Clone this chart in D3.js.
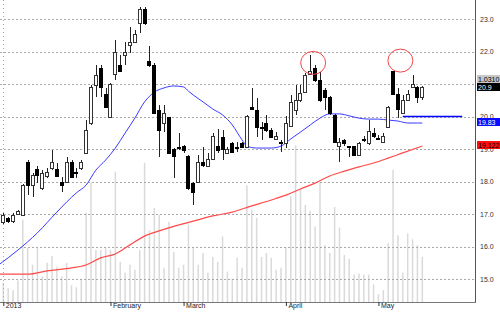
<!DOCTYPE html>
<html>
<head>
<meta charset="utf-8">
<script src="https://cdnjs.cloudflare.com/ajax/libs/d3/7.8.5/d3.min.js"></script>
<style>
  body { margin: 0; background: #fff; }
  text { font-family: "Liberation Sans", Arial, sans-serif; }
</style>
</head>
<body>
<div id="chart"></div>
<script>
// Chart data
// ================================
var opens = [16.75,16.88,16.78,17.00,16.97,18.60,17.89,18.38,17.80,18.17,
  18.42,18.38,17.98,17.98,18.60,18.30,18.42,18.88,19.80,20.97,
  21.49,20.69,19.98,21.31,21.58,21.89,22.20,22.29,22.88,23.31,
  21.71,21.58,20.20,19.80,19.98,19.00,19.07,19.09,18.78,17.95,
  17.98,18.60,18.48,18.69,19.09,19.37,18.88,19.18,19.07,19.18,
  19.06,20.29,20.20,19.69,19.80,19.58,19.31,19.23,19.18,19.71,
  20.20,20.51,20.75,21.31,21.49,21.12,20.82,20.60,20.05,19.09,
  19.28,19.10,19.09,18.82,19.32,19.18,19.49,19.35,19.22,19.68,
  21.40,20.69,20.11,20.51,20.91,20.91,20.60];
var highs = [17.03,16.91,17.03,17.12,17.92,18.66,18.26,18.48,18.35,18.42,
  18.97,18.57,18.14,18.75,18.66,18.42,18.66,19.89,20.97,21.58,
  21.58,20.88,21.03,22.35,21.89,22.29,22.75,22.66,23.37,23.37,
  22.17,21.65,20.35,20.35,20.00,19.03,19.49,19.12,18.82,18.00,
  18.82,19.06,18.88,19.49,19.61,19.58,19.06,19.22,19.22,19.22,
  20.05,20.88,20.57,19.83,20.05,19.65,19.52,19.28,20.02,20.66,
  20.97,20.97,21.34,21.89,21.58,21.37,20.88,20.63,20.08,19.34,
  19.31,19.10,19.10,19.22,19.40,19.89,19.65,19.43,19.49,20.32,
  21.40,20.88,20.66,20.82,21.28,20.94,20.94];
var lows = [16.69,16.72,16.72,16.97,16.95,17.58,17.52,17.95,17.74,18.11,
  18.35,18.14,17.68,17.95,18.11,18.11,18.35,18.88,19.74,20.60,
  20.60,20.26,19.95,21.12,21.37,21.58,21.95,22.26,22.57,22.82,
  21.52,20.11,18.75,19.52,18.85,18.11,18.97,18.88,17.74,17.28,
  17.95,18.45,18.45,18.66,18.88,18.66,18.85,18.88,18.91,19.03,
  19.06,20.20,19.37,19.28,19.52,19.34,19.28,18.91,19.03,19.68,
  20.05,20.45,20.72,21.28,21.06,20.45,20.20,20.05,19.18,18.60,
  19.09,18.75,18.78,18.78,19.22,19.12,19.34,19.28,19.18,19.65,
  20.66,19.95,20.08,20.48,20.88,20.42,20.51];
var closes = [16.97,16.78,16.97,17.09,17.89,17.89,18.20,18.20,18.26,18.29,
  18.60,18.17,17.89,18.60,18.14,18.29,18.60,19.58,20.91,21.28,
  20.91,20.29,21.00,21.98,21.40,21.98,22.29,22.54,23.31,22.88,
  21.58,20.11,19.58,20.11,18.88,18.78,19.06,18.97,17.80,17.68,
  18.60,18.51,18.69,19.40,18.97,19.00,19.00,18.91,19.06,19.06,
  20.02,20.23,19.68,19.68,19.58,19.37,19.40,19.22,19.80,20.45,
  20.51,20.72,21.28,21.40,21.12,20.51,20.60,20.11,19.22,19.22,
  19.18,19.09,18.82,19.18,19.31,19.55,19.40,19.34,19.40,20.29,
  20.69,20.23,20.51,20.69,21.00,20.60,20.90];
var volumes = [20,14,12,22,84,55,38,55,26,40,
  47,36,26,40,17,15,24,91,122,53,
  53,55,53,133,41,30,38,33,53,142,
  73,96,89,35,82,51,35,38,79,56,
  38,50,30,46,41,67,31,24,45,35,
  119,94,86,46,50,45,33,35,56,108,
  160,116,99,93,77,122,58,50,97,76,
  48,44,28,29,28,28,18,8,12,60,
  135,68,30,70,64,58,46];

// moving averages, read at a subset of bars
var blueIdx = [0,4,8,12,16,18,20,22,24,26,28,30,32,34,36,38,39,40,42,44,46,48,50,51,53,
  56,58,60,62,64,66,68,70,72,74,76,78,80,82,84,86,87];
var blueVals = [15.43,15.89,16.42,17.06,17.65,17.89,18.35,18.66,19.03,19.49,19.95,20.45,20.75,20.88,20.94,
  20.91,20.78,20.66,20.45,20.23,20.05,19.74,19.28,19.09,19.03,19.03,19.09,19.31,19.52,19.74,
  19.95,20.08,20.08,20.02,19.95,19.92,19.92,19.89,19.86,19.80,19.80,19.80];
var redIdx = [0,6,10,15,18,21,24,27,30,33,36,40,44,48,52,56,59,62,65,68,71,74,77,80,83,87];
var redVals = [15.15,15.15,15.25,15.34,15.43,15.65,15.77,16.05,16.32,16.48,16.62,16.78,16.94,
  17.06,17.25,17.43,17.58,17.77,17.95,18.17,18.32,18.45,18.57,18.72,18.88,19.09];

var monthLabels = ["2013", "February", "March", "April", "May"];
var monthIdx = [1, 23, 38, 59, 78];
var yTicks = [15, 16, 17, 18, 19, 20, 21, 22, 23];

// price tags on the right axis
var tagVals = [21.15, 20.9, 19.83, 19.12];
var tagTexts = ["1.0310", "20.9", "19.83", "19.122"];
var tagFills = ["#c8c8c8", "#000000", "#0a0aff", "#ff1010"];
var tagInk = ["#000", "#fff", "#fff", "#000"];

// highlight circles and support line
var circleIdx = [64.6, 82.5];
var circleVals = [21.65, 21.72];
var supportLevel = 20.0;
var supportFrom = 83, supportTo = 95.2;

// Set up our chart
// ================================
var svgWidth = 500;
var svgHeight = 312;
var plotRight = 476;
var plotBottom = 302;

var svg = d3.select("#chart")
  .append("svg")
  .attr("width", svgWidth)
  .attr("height", svgHeight);

var xScale = d3.scaleLinear().domain([1, 87]).range([3.3, 422.3]);
var yScale = d3.scaleLinear().domain([15, 23]).range([279, 19]);
var volScale = d3.scaleLinear().domain([0, 200]).range([plotBottom, 106]);

svg.append("clipPath").attr("id", "plotClip")
  .append("rect")
  .attr("x", 0).attr("y", 0)
  .attr("width", plotRight).attr("height", plotBottom);

var plot = svg.append("g").attr("clip-path", "url(#plotClip)");

// volume bars
plot.selectAll(".vol")
  .data(volumes)
  .enter()
  .append("rect")
  .attr("x", (d, i) => xScale(i + 1) - 0.75)
  .attr("y", d => volScale(d))
  .attr("width", 1.5)
  .attr("height", d => plotBottom - volScale(d))
  .attr("fill", "#dadada");

// dotted grid
plot.selectAll(".grid")
  .data(yTicks)
  .enter()
  .append("line")
  .attr("x1", 0)
  .attr("x2", plotRight)
  .attr("y1", d => Math.round(yScale(d)) + 0.5)
  .attr("y2", d => Math.round(yScale(d)) + 0.5)
  .attr("stroke", "#a8a8a8")
  .attr("stroke-dasharray", "2,2");

plot.append("line")
  .attr("x1", Math.round(xScale(1)) + 0.5)
  .attr("x2", Math.round(xScale(1)) + 0.5)
  .attr("y1", 0)
  .attr("y2", plotBottom)
  .attr("stroke", "#a8a8a8")
  .attr("stroke-dasharray", "1,3");

// moving averages
var maLine = d3.line()
  .x(d => xScale(d[0]))
  .y(d => yScale(d[1]))
  .curve(d3.curveMonotoneX);

plot.append("path")
  .attr("d", maLine(redIdx.map((d, i) => [d, redVals[i]])))
  .attr("fill", "none")
  .attr("stroke", "#ff4a4a")
  .attr("stroke-width", 1.2);

plot.append("path")
  .attr("d", maLine(blueIdx.map((d, i) => [d, blueVals[i]])))
  .attr("fill", "none")
  .attr("stroke", "#3a3aff")
  .attr("stroke-width", 1);

// candles
var candles = opens.map((o, i) => ({i: i + 1, o: o, h: highs[i], l: lows[i], c: closes[i]}));

var candleGroup = plot.append("g").attr("shape-rendering", "crispEdges");

candleGroup.selectAll(".wick")
  .data(candles)
  .enter()
  .append("line")
  .attr("x1", d => Math.round(xScale(d.i)) + 0.5)
  .attr("x2", d => Math.round(xScale(d.i)) + 0.5)
  .attr("y1", d => yScale(d.h))
  .attr("y2", d => yScale(d.l))
  .attr("stroke", "#222");

candleGroup.selectAll(".body")
  .data(candles)
  .enter()
  .append("rect")
  .attr("x", d => Math.round(xScale(d.i)) - 1.5)
  .attr("y", d => Math.round(yScale(Math.max(d.o, d.c))) + 0.5)
  .attr("width", 3)
  .attr("height", d => Math.max(Math.round(yScale(Math.min(d.o, d.c))) - Math.round(yScale(Math.max(d.o, d.c))), 1))
  .attr("fill", d => d.c >= d.o ? "#fff" : "#000")
  .attr("stroke", d => d.c >= d.o ? "#333" : "#000");

// support line
plot.append("line")
  .attr("x1", xScale(supportFrom))
  .attr("x2", xScale(supportTo))
  .attr("y1", yScale(supportLevel))
  .attr("y2", yScale(supportLevel))
  .attr("stroke", "#0000ff")
  .attr("stroke-width", 1.5);

// highlight circles
plot.selectAll(".mark")
  .data(circleIdx)
  .enter()
  .append("ellipse")
  .attr("cx", d => xScale(d))
  .attr("cy", (d, i) => yScale(circleVals[i]))
  .attr("rx", 12.5)
  .attr("ry", 11.5)
  .attr("fill", "none")
  .attr("stroke", "#f04848")
  .attr("stroke-width", 1);

// Axes
// ================================
svg.append("line")
  .attr("x1", 0).attr("x2", plotRight)
  .attr("y1", plotBottom + 0.5).attr("y2", plotBottom + 0.5)
  .attr("stroke", "#777");

svg.append("line")
  .attr("x1", plotRight - 0.5).attr("x2", plotRight - 0.5)
  .attr("y1", 0).attr("y2", plotBottom)
  .attr("stroke", "#555");

var bottomAxis = d3.axisBottom(xScale)
  .tickValues(monthIdx)
  .tickFormat((d, i) => monthLabels[i])
  .tickSize(4);

var xAxis = svg.append("g")
  .attr("transform", `translate(0, ${plotBottom})`)
  .call(bottomAxis);
xAxis.select(".domain").remove();
xAxis.selectAll("line").attr("stroke", "#333");
xAxis.selectAll("text")
  .attr("y", 1.5)
  .attr("x", 2)
  .attr("dy", "0.71em")
  .style("text-anchor", "start")
  .attr("font-size", "7px")
  .attr("font-family", "Liberation Sans, Arial, sans-serif")
  .attr("fill", "#222");

var rightAxis = d3.axisRight(yScale)
  .tickValues(yTicks)
  .tickFormat(d3.format(".1f"))
  .tickSize(0)
  .tickPadding(4);

var yAxis = svg.append("g")
  .attr("transform", `translate(${plotRight}, 0)`)
  .call(rightAxis);
yAxis.select(".domain").remove();
yAxis.selectAll("text")
  .attr("font-size", "7px")
  .attr("font-family", "Liberation Sans, Arial, sans-serif")
  .attr("fill", "#333");

// price tags
var tags = svg.selectAll(".tag")
  .data(tagVals)
  .enter()
  .append("g")
  .attr("transform", d => `translate(${plotRight + 1}, ${Math.round(yScale(d))})`);

tags.append("rect")
  .attr("x", 0)
  .attr("y", -4)
  .attr("width", svgWidth - plotRight)
  .attr("height", 8)
  .attr("fill", (d, i) => tagFills[i]);

tags.append("text")
  .attr("x", 1)
  .attr("y", 2.6)
  .attr("font-size", "7px")
  .attr("fill", (d, i) => tagInk[i])
  .text((d, i) => tagTexts[i]);
</script>
</body>
</html>
